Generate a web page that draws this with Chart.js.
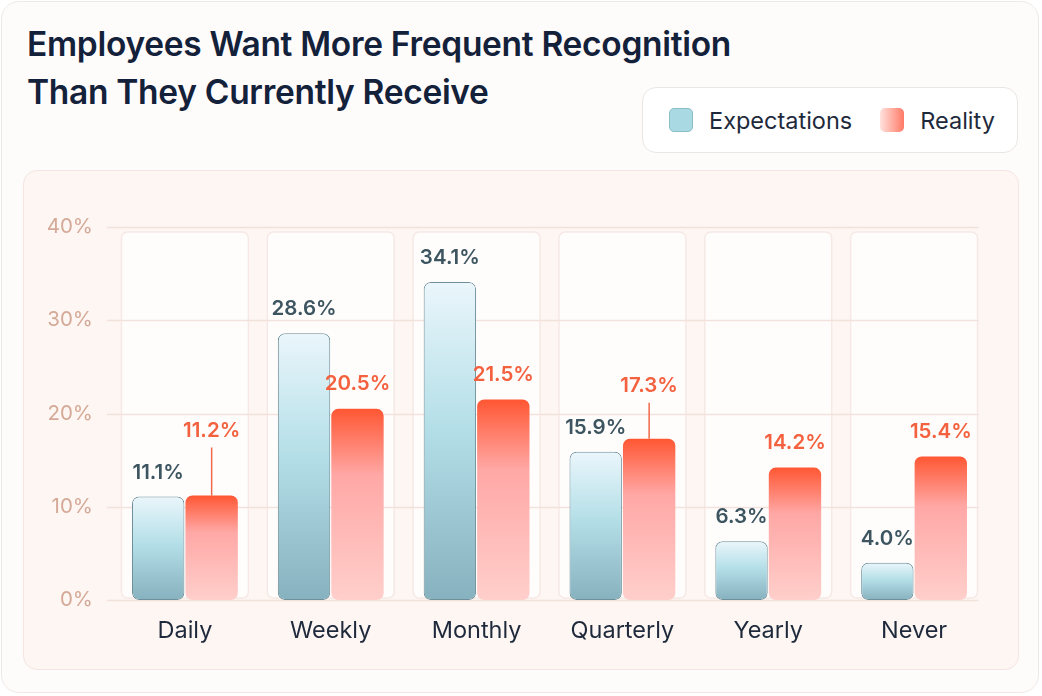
<!DOCTYPE html>
<html lang="en">
<head>
  <meta charset="UTF-8" />
  <title>Recognition Frequency</title>
  <script src="https://cdn.jsdelivr.net/npm/chart.js"></script>
  <style>
    body {
      margin: 0;
      background: #ffffff;
      font-family: Inter, "Noto Sans", sans-serif;
      width: 1042px;
      height: 696px;
      position: relative;
      overflow: hidden;
    }
    .card {
      position: absolute;
      left: 1px; top: 1px;
      width: 1038px; height: 692px;
      box-sizing: border-box;
      border: 1px solid #f0e8e5;
      border-radius: 18px;
      background: #fefcfb;
    }
    h1 {
      position: absolute;
      left: 27px; top: 20px;
      margin: 0;
      font-size: 33.5px;
      font-weight: 600;
      line-height: 48px;
      color: #14213a;
      letter-spacing: -0.3px;
    }
    #legend {
      position: absolute;
      left: 642px; top: 87px;
      width: 376px; height: 66px;
      box-sizing: border-box;
      border: 1px solid #ebe6e4;
      border-radius: 14px;
      background: #ffffff;
      display: flex;
      align-items: center;
      padding-left: 26px;
    }
    .item { display: flex; align-items: center; margin-right: 28px; }
    .swatch {
      width: 24px; height: 24px;
      border-radius: 5px;
      box-sizing: border-box;
      margin-right: 16px;
    }
    .label { font-size: 23.5px; color: #1e2a3b; }
    .panel {
      position: absolute;
      left: 23px; top: 170px;
      width: 996px; height: 500px;
      box-sizing: border-box;
      border: 1px solid #f5e5e0;
      border-radius: 14px;
      background: #fdf6f3;
    }
    canvas { position: absolute; left: -1px; top: -1px; }
  </style>
</head>
<body>
  <div class="card"></div>
  <h1>Employees Want More Frequent Recognition<br>Than They Currently Receive</h1>
  <div id="legend"></div>
  <div class="panel">
    <canvas id="chart" width="996" height="500"></canvas>
  </div>

  <script>
    const categories = ['Daily', 'Weekly', 'Monthly', 'Quarterly', 'Yearly', 'Never'];
    const expectations = [11.1, 28.6, 34.1, 15.9, 6.3, 4.0];
    const reality = [11.2, 20.5, 21.5, 17.3, 14.2, 15.4];
    const yMax = 40;
    const yStep = 10;

    const expStops = [[0, '#eaf6fb'], [0.45, '#b5dfe8'], [1, '#86b1be']];
    const realStops = [[0, '#ff5733'], [0.35, '#ffa8a6'], [1, '#ffcfcb']];

    function barGradient(ctx, stops) {
      const chart = ctx.chart;
      if (!chart.chartArea || ctx.type !== 'data') return stops[1][1];
      const y = chart.scales.y;
      const top = y.getPixelForValue(ctx.raw);
      const base = y.getPixelForValue(0);
      const g = chart.ctx.createLinearGradient(0, top, 0, base);
      stops.forEach(([o, c]) => g.addColorStop(o, c));
      return g;
    }

    // column panels and horizontal grid behind the bars
    const backdrop = {
      id: 'backdrop',
      beforeDraw(chart) {
        const { ctx, chartArea, scales } = chart;
        const x = scales.x, y = scales.y;
        const band = (x.getPixelForValue(1) - x.getPixelForValue(0)) * 0.87;
        const top = y.getPixelForValue(yMax) + 5;
        const bottom = y.getPixelForValue(0) - 2;
        ctx.save();
        categories.forEach((c, i) => {
          const cx = x.getPixelForValue(i);
          ctx.beginPath();
          ctx.roundRect(cx - band / 2, top, band, bottom - top, 6);
          ctx.fillStyle = 'rgba(255,255,255,0.75)';
          ctx.fill();
          ctx.strokeStyle = '#f6e9e5';
          ctx.lineWidth = 1.5;
          ctx.stroke();
        });
        const right = x.getPixelForValue(categories.length - 1) + band / 2 + 1;
        ctx.strokeStyle = '#f3e1db';
        ctx.lineWidth = 1.5;
        y.ticks.forEach(t => {
          const py = Math.round(y.getPixelForValue(t.value)) + 0.5;
          ctx.beginPath();
          ctx.moveTo(chartArea.left - 5, py);
          ctx.lineTo(right, py);
          ctx.stroke();
        });
        ctx.restore();
      }
    };

    // value labels above bars, with a leader line when they would collide
    const valueLabels = {
      id: 'valueLabels',
      afterDatasetsDraw(chart) {
        const { ctx } = chart;
        const expMeta = chart.getDatasetMeta(0).data;
        const realMeta = chart.getDatasetMeta(1).data;
        ctx.save();
        ctx.font = '600 20.5px Inter, "Noto Sans", sans-serif';
        ctx.textAlign = 'center';
        ctx.textBaseline = 'middle';
        categories.forEach((c, i) => {
          const e = expMeta[i], r = realMeta[i];
          const ey = e.y - 24;
          let ry = r.y - 25;
          ctx.fillStyle = '#3d5560';
          ctx.fillText(expectations[i].toFixed(1) + '%', e.x, ey);
          if (Math.abs(ry - ey) < 28) {
            ry = ey - 42;
            ctx.strokeStyle = '#f2694a';
            ctx.lineWidth = 1.5;
            ctx.beginPath();
            ctx.moveTo(r.x, ry + 17);
            ctx.lineTo(r.x, r.y);
            ctx.stroke();
          }
          ctx.fillStyle = '#f3613e';
          ctx.fillText(reality[i].toFixed(1) + '%', r.x, ry);
        });
        ctx.restore();
      }
    };

    const chart = new Chart(document.getElementById('chart'), {
      type: 'bar',
      data: {
        labels: categories,
        datasets: [
          {
            label: 'Expectations',
            data: expectations,
            backgroundColor: ctx => barGradient(ctx, expStops),
            borderColor: '#6f8f9a',
            borderWidth: 1,
            borderRadius: 7,
            borderSkipped: false
          },
          {
            label: 'Reality',
            data: reality,
            backgroundColor: ctx => barGradient(ctx, realStops),
            borderColor: '#ffd2cc',
            borderWidth: 0,
            borderRadius: 7,
            borderSkipped: false
          }
        ]
      },
      options: {
        responsive: false,
        animation: false,
        layout: { padding: { top: 57, right: 32, bottom: 0, left: 0 } },
        categoryPercentage: 0.733,
        barPercentage: 0.98,
        plugins: {
          legend: { display: false },
          tooltip: { enabled: false }
        },
        scales: {
          x: {
            grid: { display: false, drawTicks: false },
            border: { display: false },
            ticks: {
              padding: 17,
              color: '#1e293b',
              font: { family: 'Inter', size: 23.5 }
            },
            afterFit: s => { s.height = 70; }
          },
          y: {
            min: 0,
            max: yMax,
            grid: { display: false, drawTicks: false },
            border: { display: false },
            ticks: {
              stepSize: yStep,
              padding: 19,
              color: '#d5a997',
              font: { family: 'Inter', size: 20.5 },
              callback: v => v + '%'
            },
            afterFit: s => { s.width = 89; }
          }
        }
      },
      plugins: [backdrop, valueLabels]
    });

    // legend box built from the datasets
    const legendSwatches = [
      'background:#a9d9e3;border:1px solid #8dbdc7;',
      'background:linear-gradient(to right,#ffe2de,#ff7a66);'
    ];
    document.getElementById('legend').innerHTML = chart.data.datasets.map((ds, i) =>
      `<div class="item"><span class="swatch" style="${legendSwatches[i]}"></span><span class="label">${ds.label}</span></div>`
    ).join('');
  </script>
</body>
</html>
